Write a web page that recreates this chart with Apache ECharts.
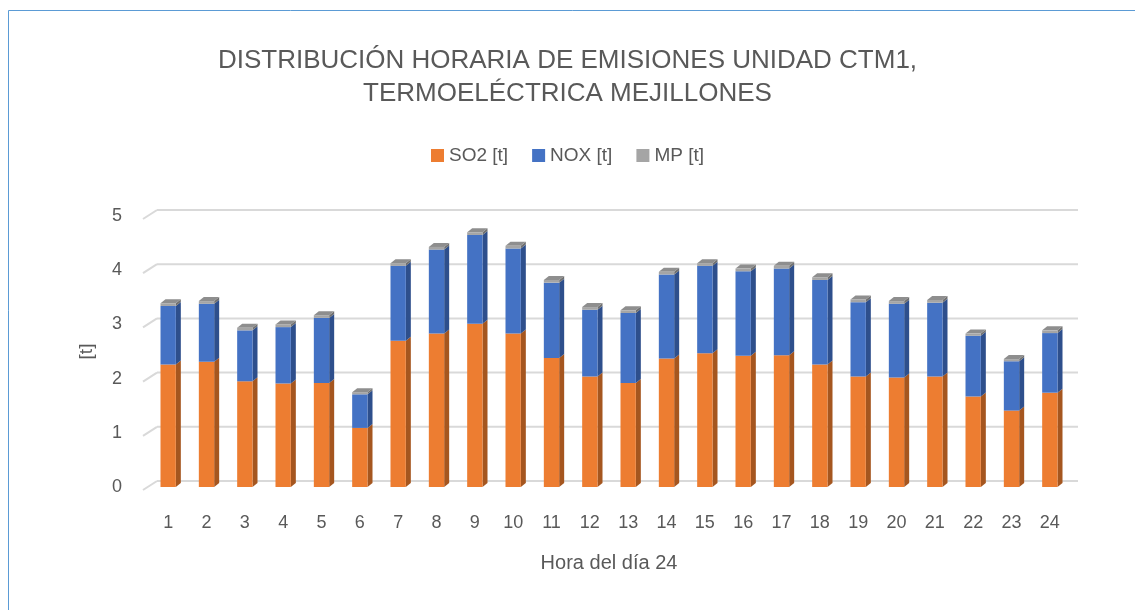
<!DOCTYPE html>
<html><head><meta charset="utf-8">
<script src="https://cdn.jsdelivr.net/npm/echarts@6/dist/echarts.min.js"></script>
<style>html,body{margin:0;padding:0;background:#fff}#c{width:1135px;height:610px}</style>
</head><body><div id="c"></div>
<script>
const categories = ['1','2','3','4','5','6','7','8','9','10','11','12','13','14','15','16','17','18','19','20','21','22','23','24'];
const so2 = [2.26,2.31,1.95,1.91,1.92,1.09,2.70,2.83,3.01,2.83,2.38,2.04,1.92,2.37,2.47,2.42,2.43,2.26,2.04,2.02,2.04,1.67,1.41,1.74];
const nox = [1.08,1.07,0.94,1.04,1.20,0.62,1.38,1.55,1.64,1.57,1.39,1.23,1.29,1.55,1.61,1.56,1.60,1.56,1.37,1.36,1.36,1.12,0.91,1.10];
const mp  = [0.05,0.05,0.05,0.05,0.05,0.04,0.05,0.05,0.05,0.05,0.05,0.05,0.05,0.05,0.05,0.05,0.05,0.05,0.05,0.05,0.05,0.04,0.04,0.05];
const yTicks = [0,1,2,3,4,5];

const FONT = '"Liberation Sans", "DejaVu Sans", sans-serif';
const TXT = '#595959';
const colors = ['#ED7D31','#4472C4','#A5A5A5'];
const sideColors = ['#A5561F','#2E4F8C','#707070'];
const topColor = '#8E8E8E';
const BW = 0.4;

const chart = echarts.init(document.getElementById('c'));
const depthData = categories.map((c,i)=>[i, so2[i], nox[i], mp[i]]);

chart.setOption({
  animation:false,
  backgroundColor:'#fff',
  color: colors,
  graphic:[{type:'rect',shape:{x:8.5,y:10.5,width:1140,height:620},style:{fill:'none',stroke:'#5B9BD5',lineWidth:1},silent:true,z:-10}],
  title:{
    text:'DISTRIBUCIÓN HORARIA DE EMISIONES UNIDAD CTM1,\nTERMOELÉCTRICA MEJILLONES',
    left:'center', top:39,
    textStyle:{fontFamily:FONT,fontSize:26,fontWeight:'normal',color:TXT,lineHeight:33}
  },
  legend:{
    data:['SO2 [t]','NOX [t]','MP [t]'],
    top:141, left:'center', itemWidth:13, itemHeight:13, itemGap:24,
    icon:'rect',
    textStyle:{fontFamily:FONT,fontSize:19,color:TXT}
  },
  grid:{left:149,width:920,top:216,height:271,containLabel:false},
  xAxis:{
    type:'category', data:categories,
    name:'Hora del día 24', nameLocation:'middle', nameGap:66,
    nameTextStyle:{fontFamily:FONT,fontSize:20,color:TXT},
    axisLine:{show:false}, axisTick:{show:false},
    axisLabel:{fontFamily:FONT,fontSize:18,color:TXT,margin:27}
  },
  yAxis:{
    type:'value', min:0, max:5, interval:1,
    name:'[t]', nameLocation:'middle', nameGap:53, nameRotate:90,
    nameTextStyle:{fontFamily:FONT,fontSize:19,color:TXT},
    axisLine:{show:false}, axisTick:{show:false},
    axisLabel:{fontFamily:FONT,fontSize:18,color:TXT,margin:27,formatter:v=>yTicks.includes(v)?String(v):''},
    splitLine:{show:false}
  },
  series:[
    {
      type:'custom', silent:true, z:0,
      data: yTicks.map(v=>[0, v]),
      encode:{x:0,y:1},
      renderItem:function(params, api){
        const cs = params.coordSys;
        const y = api.coord([0, api.value(1)])[1];
        const left = cs.x, right = cs.x + cs.width;
        const st = {stroke:'#D9D9D9',lineWidth:2,fill:'none'};
        return {type:'group',children:[
          {type:'line',shape:{x1:left+8,y1:y-6,x2:right+9,y2:y-6},style:st},
          {type:'line',shape:{x1:left-6,y1:y+3,x2:left+8,y2:y-6},style:st}
        ]};
      }
    },
    {name:'SO2 [t]',type:'bar',stack:'s',z:2,barWidth:(BW*100)+'%',data:so2,itemStyle:{color:colors[0]}},
    {name:'NOX [t]',type:'bar',stack:'s',z:2,barWidth:(BW*100)+'%',data:nox,itemStyle:{color:colors[1]}},
    {name:'MP [t]',type:'bar',stack:'s',z:2,barWidth:(BW*100)+'%',data:mp,itemStyle:{color:colors[2]}},
    {
      type:'custom', silent:true, z:2,
      data: depthData,
      encode:{x:0,y:[1,2,3]},
      renderItem:function(params, api){
        const i = api.value(0);
        const vals = [api.value(1), api.value(2), api.value(3)];
        const band = api.size([1,0])[0];
        const w = band*BW;
        const dx = 5, dy = 4;
        const children = [];
        let cum = 0;
        let xr = 0, xl = 0, yTop = 0;
        for (let k=0;k<3;k++){
          const pb = api.coord([i, cum]);
          cum += vals[k];
          const pt = api.coord([i, cum]);
          xr = pb[0] + w/2; xl = pb[0] - w/2;
          children.push({type:'polygon',shape:{points:[[xr,pb[1]],[xr+dx,pb[1]-dy],[xr+dx,pt[1]-dy],[xr,pt[1]]]},style:{fill:sideColors[k]}});
          yTop = pt[1];
        }
        children.push({type:'polygon',shape:{points:[[xl,yTop],[xl+dx,yTop-dy],[xr+dx,yTop-dy],[xr,yTop]]},style:{fill:topColor}});
        return {type:'group',children:children};
      }
    }
  ]
});
</script></body></html>
